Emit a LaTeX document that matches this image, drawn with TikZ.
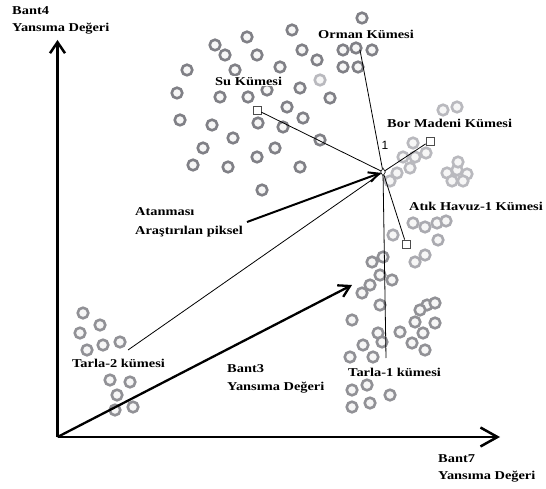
\documentclass[tikz,border=0pt]{standalone}
\usepackage{fontspec}
\setmainfont{Liberation Serif}[FakeStretch=1.2]
\newfontfamily\numfont{Liberation Sans}
\usetikzlibrary{arrows.meta,shapes.geometric}

\definecolor{ringdark}{RGB}{128,128,134}
\definecolor{ringmid}{RGB}{145,145,150}
\definecolor{ringlight}{RGB}{185,185,190}
\definecolor{ringpale}{RGB}{170,170,176}

\begin{document}
\begin{tikzpicture}[x=1bp,y=-1bp,
  ring/.style={draw=#1, line width=2.6bp, fill=gray!7},
  sq/.style={draw=gray!60!black, line width=0.8bp, minimum size=8bp, inner sep=0pt},
  thinline/.style={line width=0.8bp},
  axis/.style={line width=2.5bp},
  lbl/.style={font=\bfseries\fontsize{12bp}{17bp}\selectfont, fill=white,
              inner sep=1bp, anchor=west, align=left},
]
\fill[white] (0,0) rectangle (546,489);
\useasboundingbox (0,0) rectangle (546,489);

% upper cluster (Su / Orman)
\foreach \x/\y in {215/45,247/37,292/30,225/55,257/55,302/50,280/67,235/70,187/70,
  317/60,177/93,220/97,248/97,287/107,267/90,300/88,180/120,212/125,258/123,283/127,
  303/118,233/138,203/148,275/148,257/157,193/165,228/167,300/167,320/140,262/190,
  362/18,343/50,356/48,372/50,343/67,358/67,330/98}
  \draw[ring=ringdark] (\x,\y) circle[radius=5.3];
\draw[ring=ringlight] (320,80) circle[radius=5.3];

% Bor Madeni cluster
\foreach \x/\y in {457/107,443/110,413/143,403/157,415/157,426/153,410/168,397/173,
  447/173,457/170,467/174,452/181,463/181,458/162,390/181}
  \draw[ring=ringlight] (\x,\y) circle[radius=5.3];

% Atik Havuz-1 cluster
\foreach \x/\y in {413/223,425/227,437/223,446/221,393/235,438/240,425/255,415/262}
  \draw[ring=ringpale] (\x,\y) circle[radius=5.3];

% Tarla-1 cluster
\foreach \x/\y in {383/257,372/262,380/275,392/280,370/285,362/293,380/305,427/305,
  435/303,352/320,378/333,382/342,363/345,350/357,373/357,420/310,415/322,435/323,
  400/332,423/333,412/343,425/350,352/390,367/385,390/395,352/407,370/403}
  \draw[ring=ringmid] (\x,\y) circle[radius=5.3];

% Tarla-2 cluster
\foreach \x/\y in {83/313,100/325,80/333,103/345,120/342,87/350,110/380,130/382,
  117/395,133/407,115/410}
  \draw[ring=ringmid] (\x,\y) circle[radius=5.3];

% pixel to be assigned and cluster ends
\node[diamond, draw, fill=white, line width=0.6bp, inner sep=0pt,
      minimum width=5bp, minimum height=8bp] (px) at (383,172) {};
\node[sq] (suq) at (257,110) {};
\node[sq] (bq) at (430,141) {};
\node[sq] (aq) at (406,244) {};
\coordinate (orm) at (360,50);
\coordinate (t1) at (386,358);
\coordinate (t2) at (128,350);
\coordinate (atn) at (247,222);
\coordinate (O) at (57.5,437);
\coordinate (ytip) at (57.5,40);
\coordinate (xtip) at (500,437);
\coordinate (b3) at (352,285);

% axes
\draw[axis, -{Straight Barb[length=11bp,width=15bp]}] (O) -- (ytip);
\draw[axis, -{Straight Barb[length=17bp,width=19bp]}] (O) -- (xtip);
\draw[line width=2.3bp, -{Straight Barb[length=11bp,width=13bp]}] (O) -- (b3);

% distance lines
\draw[thinline] (suq) -- (px);
\draw[thinline] (orm) -- (px);
\draw[thinline] (px) -- (bq);
\draw[thinline] (px) -- (aq);
\draw[thinline] (px) -- (t1);
\draw[thinline] (t2) -- (px);
\draw[line width=2bp, -{Straight Barb[length=10bp,width=10bp]}] (atn) -- (px);

% labels
\node[lbl] (bant4) at (11,20) {Bant4\\Yansıma Değeri};
\node[lbl] (orman) at (317,34) {Orman Kümesi};
\node[lbl] (su) at (214,81) {Su Kümesi};
\node[lbl] (bor) at (386,123) {Bor Madeni Kümesi};
\node[lbl] (atik) at (408,206) {Atık Havuz-1 Kümesi};
\node[font=\numfont\fontsize{12bp}{14bp}\selectfont, inner sep=0pt] (one) at (385,145) {1};
\node[lbl, fill=none, font=\bfseries\fontsize{12bp}{19bp}\selectfont] (atanma) at (134,222.5) {Atanması\\Araştırılan piksel};
\node[lbl] (tarla2) at (71,363) {Tarla-2 kümesi};
\node[lbl, fill=none, font=\bfseries\fontsize{12bp}{18bp}\selectfont] (bant3) at (226,379) {Bant3\\Yansıma Değeri};
\node[lbl] (tarla1) at (347,372) {Tarla-1 kümesi};
\node[lbl, fill=none] (bant7) at (437,468.5) {Bant7\\Yansıma Değeri};
\end{tikzpicture}
\end{document}
